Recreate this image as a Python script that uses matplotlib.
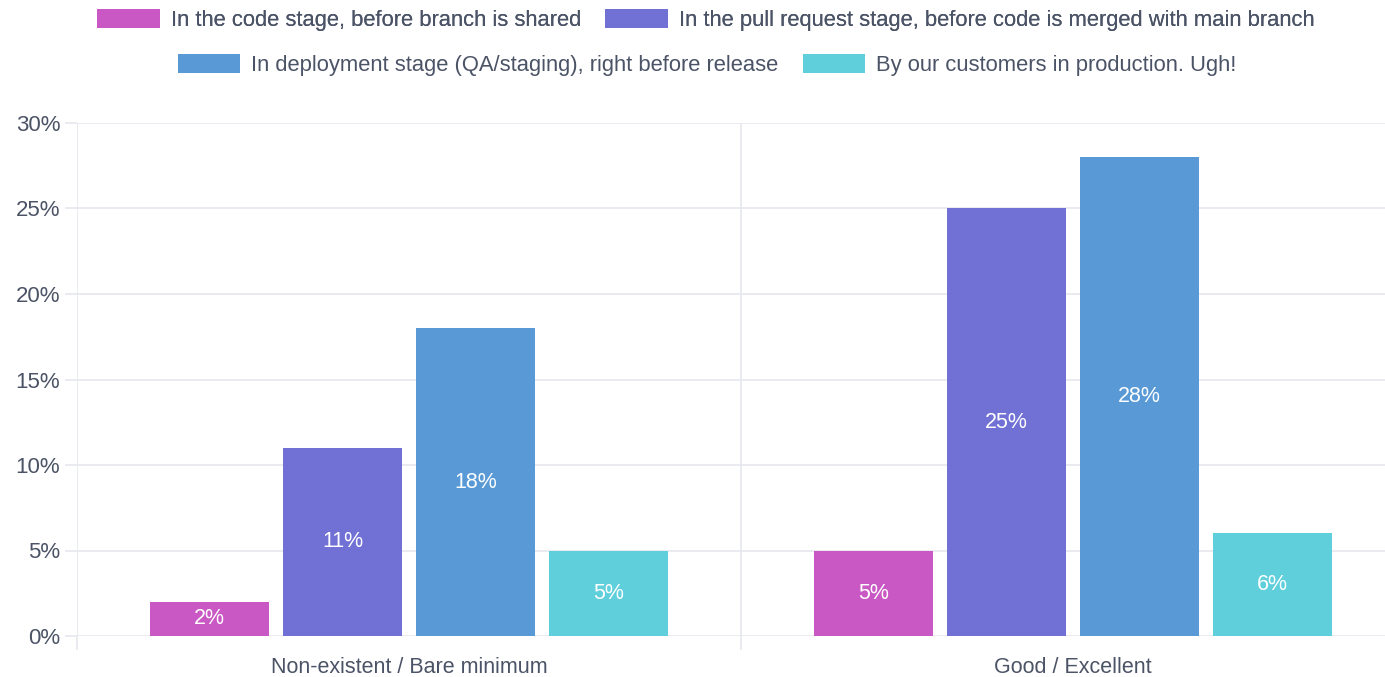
import numpy as np
import matplotlib.pyplot as plt

plt.rcParams['font.family'] = ['Liberation Sans', 'DejaVu Sans']

categories = ['Non-existent / Bare minimum', 'Good / Excellent']
series = [
    'In the code stage, before branch is shared',
    'In the pull request stage, before code is merged with main branch',
    'In deployment stage (QA/staging), right before release',
    'By our customers in production. Ugh!',
]
values = [
    [2, 5],
    [11, 25],
    [18, 28],
    [5, 6],
]
colors = ['#c957c4', '#7170d4', '#5899d6', '#5ecfdb']
text_color = '#4b5366'
grid_color = '#e6e8ef'

fig = plt.figure(figsize=(13.85, 6.77), dpi=100)
ax = fig.add_axes([77 / 1385, 1 - 636 / 677, 1328 / 1385, 513 / 677])

x = np.arange(len(categories))
step = 0.2
width = 0.179
bars = []
for i, (name, vals) in enumerate(zip(series, values)):
    offs = (i - 1.5) * step
    b = ax.bar(x + offs, vals, width, color=colors[i], label=name, zorder=3)
    bars.append(b)
    for xi, v in zip(x + offs, vals):
        ax.text(xi, v / 2, f'{v}%', ha='center', va='center', color='white',
                fontsize=15.5, zorder=4)

ax.set_xlim(-0.5, 1.5)
ax.set_ylim(0, 30)
ax.set_yticks(range(0, 31, 5))
ax.set_yticklabels([f'{t}%' for t in range(0, 31, 5)])
ax.set_xticks(x)
ax.set_xticklabels(categories)
ax.set_xticks([-0.5, 0.5, 1.5], minor=True)

for s in ax.spines.values():
    s.set_visible(False)
ax.grid(axis='y', color=grid_color, linewidth=1.2, zorder=0)
ax.grid(axis='x', which='minor', color=grid_color, linewidth=1.2, zorder=0)
ax.tick_params(axis='y', length=9, color=grid_color, width=1.2, pad=3,
               labelsize=16, labelcolor=text_color)
ax.tick_params(axis='x', which='major', length=0, pad=15, labelsize=15.5,
               labelcolor=text_color)
ax.tick_params(axis='x', which='minor', length=10, color=grid_color, width=1.2)

leg_kw = dict(loc='center', ncol=2, frameon=False, fontsize=15.8,
              handlelength=2.85, handleheight=0.92, handletextpad=0.5,
              columnspacing=1.1, labelcolor=text_color)
leg1 = fig.legend(bars[:2], series[:2], bbox_to_anchor=(706 / 1385, 1 - 20 / 677), **leg_kw)
fig.add_artist(leg1)
fig.legend(bars[2:], series[2:], bbox_to_anchor=(707 / 1385, 1 - 65 / 677), **leg_kw)

fig.savefig('out.png', dpi=100)
